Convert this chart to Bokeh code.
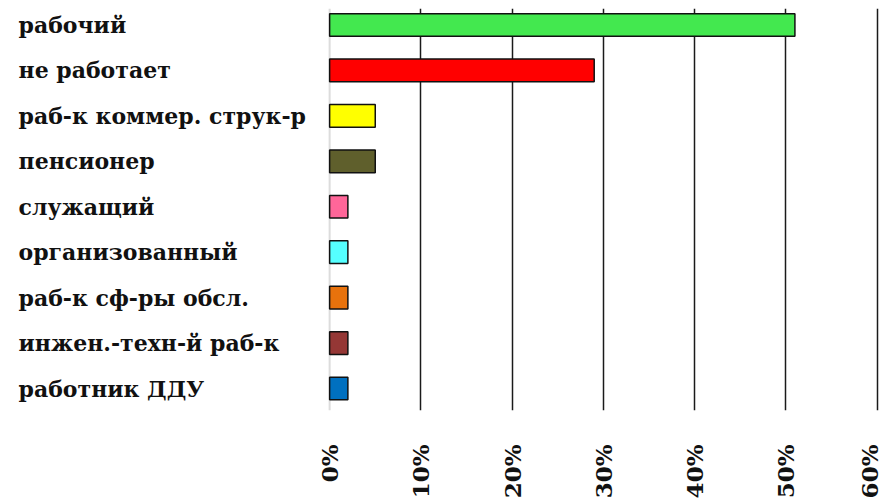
import math
from bokeh.plotting import figure
from bokeh.models import ColumnDataSource, Range1d, FixedTicker, Span
from bokeh.core.properties import value
from bokeh.embed import file_html
from bokeh.resources import INLINE

categories = ["рабочий", "не работает", "раб-к коммер. струк-р", "пенсионер",
              "служащий", "организованный", "раб-к сф-ры обсл.",
              "инжен.-техн-й раб-к", "работник ДДУ"]
values = [51, 29, 5, 5, 2, 2, 2, 2, 2]
colors = ["#43e84f", "#ff0000", "#ffff00", "#5f5f2c", "#ff6699",
          "#55ffff", "#e8720c", "#953735", "#0070c0"]
tick_values = [0, 10, 20, 30, 40, 50, 60]
tick_labels = ["0%", "10%", "20%", "30%", "40%", "50%", "60%"]

n = len(categories)
positions = [n - 1 - i for i in range(n)]

src = ColumnDataSource(dict(cat=categories, val=values, col=colors, pos=positions,
                            lx=[-34.1] * n))

FONT = "DejaVu Serif"

p = figure(frame_width=874, frame_height=402, output_backend="svg", toolbar_location=None,
           x_range=Range1d(-35.2, 60.6), y_range=Range1d(-0.484, 8.363),
           y_axis_location=None, min_border_left=8, min_border_right=0,
           min_border_top=8, min_border_bottom=0)
p.outline_line_color = None
p.ygrid.grid_line_color = None
p.xgrid.ticker = FixedTicker(ticks=tick_values[1:])
p.xgrid.grid_line_color = "#1a1a1a"
p.xgrid.grid_line_width = 1.5

zero = Span(location=tick_values[0], dimension="height", line_color="#dcdcdc",
            line_width=2, level="underlay")
p.add_layout(zero)

p.hbar(y="pos", left=0, right="val", height=0.5, fill_color="col",
       line_color="#111111", line_width=1.5, source=src)

p.text(x="lx", y="pos", text="cat", source=src, text_font=value(FONT),
       text_font_style="bold", text_font_size="22px", text_align="left",
       text_baseline="middle", text_color="#111111")

ax = p.xaxis[0]
ax.ticker = FixedTicker(ticks=tick_values)
ax.major_label_overrides = {v: l for v, l in zip(tick_values, tick_labels)}
ax.major_label_orientation = math.pi / 2
ax.major_label_text_font = FONT
ax.major_label_text_font_style = "bold"
ax.major_label_text_font_size = "23px"
ax.major_label_text_color = "#111111"
ax.major_label_standoff = 28
ax.axis_line_color = None
ax.major_tick_line_color = None
ax.minor_tick_line_color = None

open("out.html", "w").write(file_html(p, INLINE))
